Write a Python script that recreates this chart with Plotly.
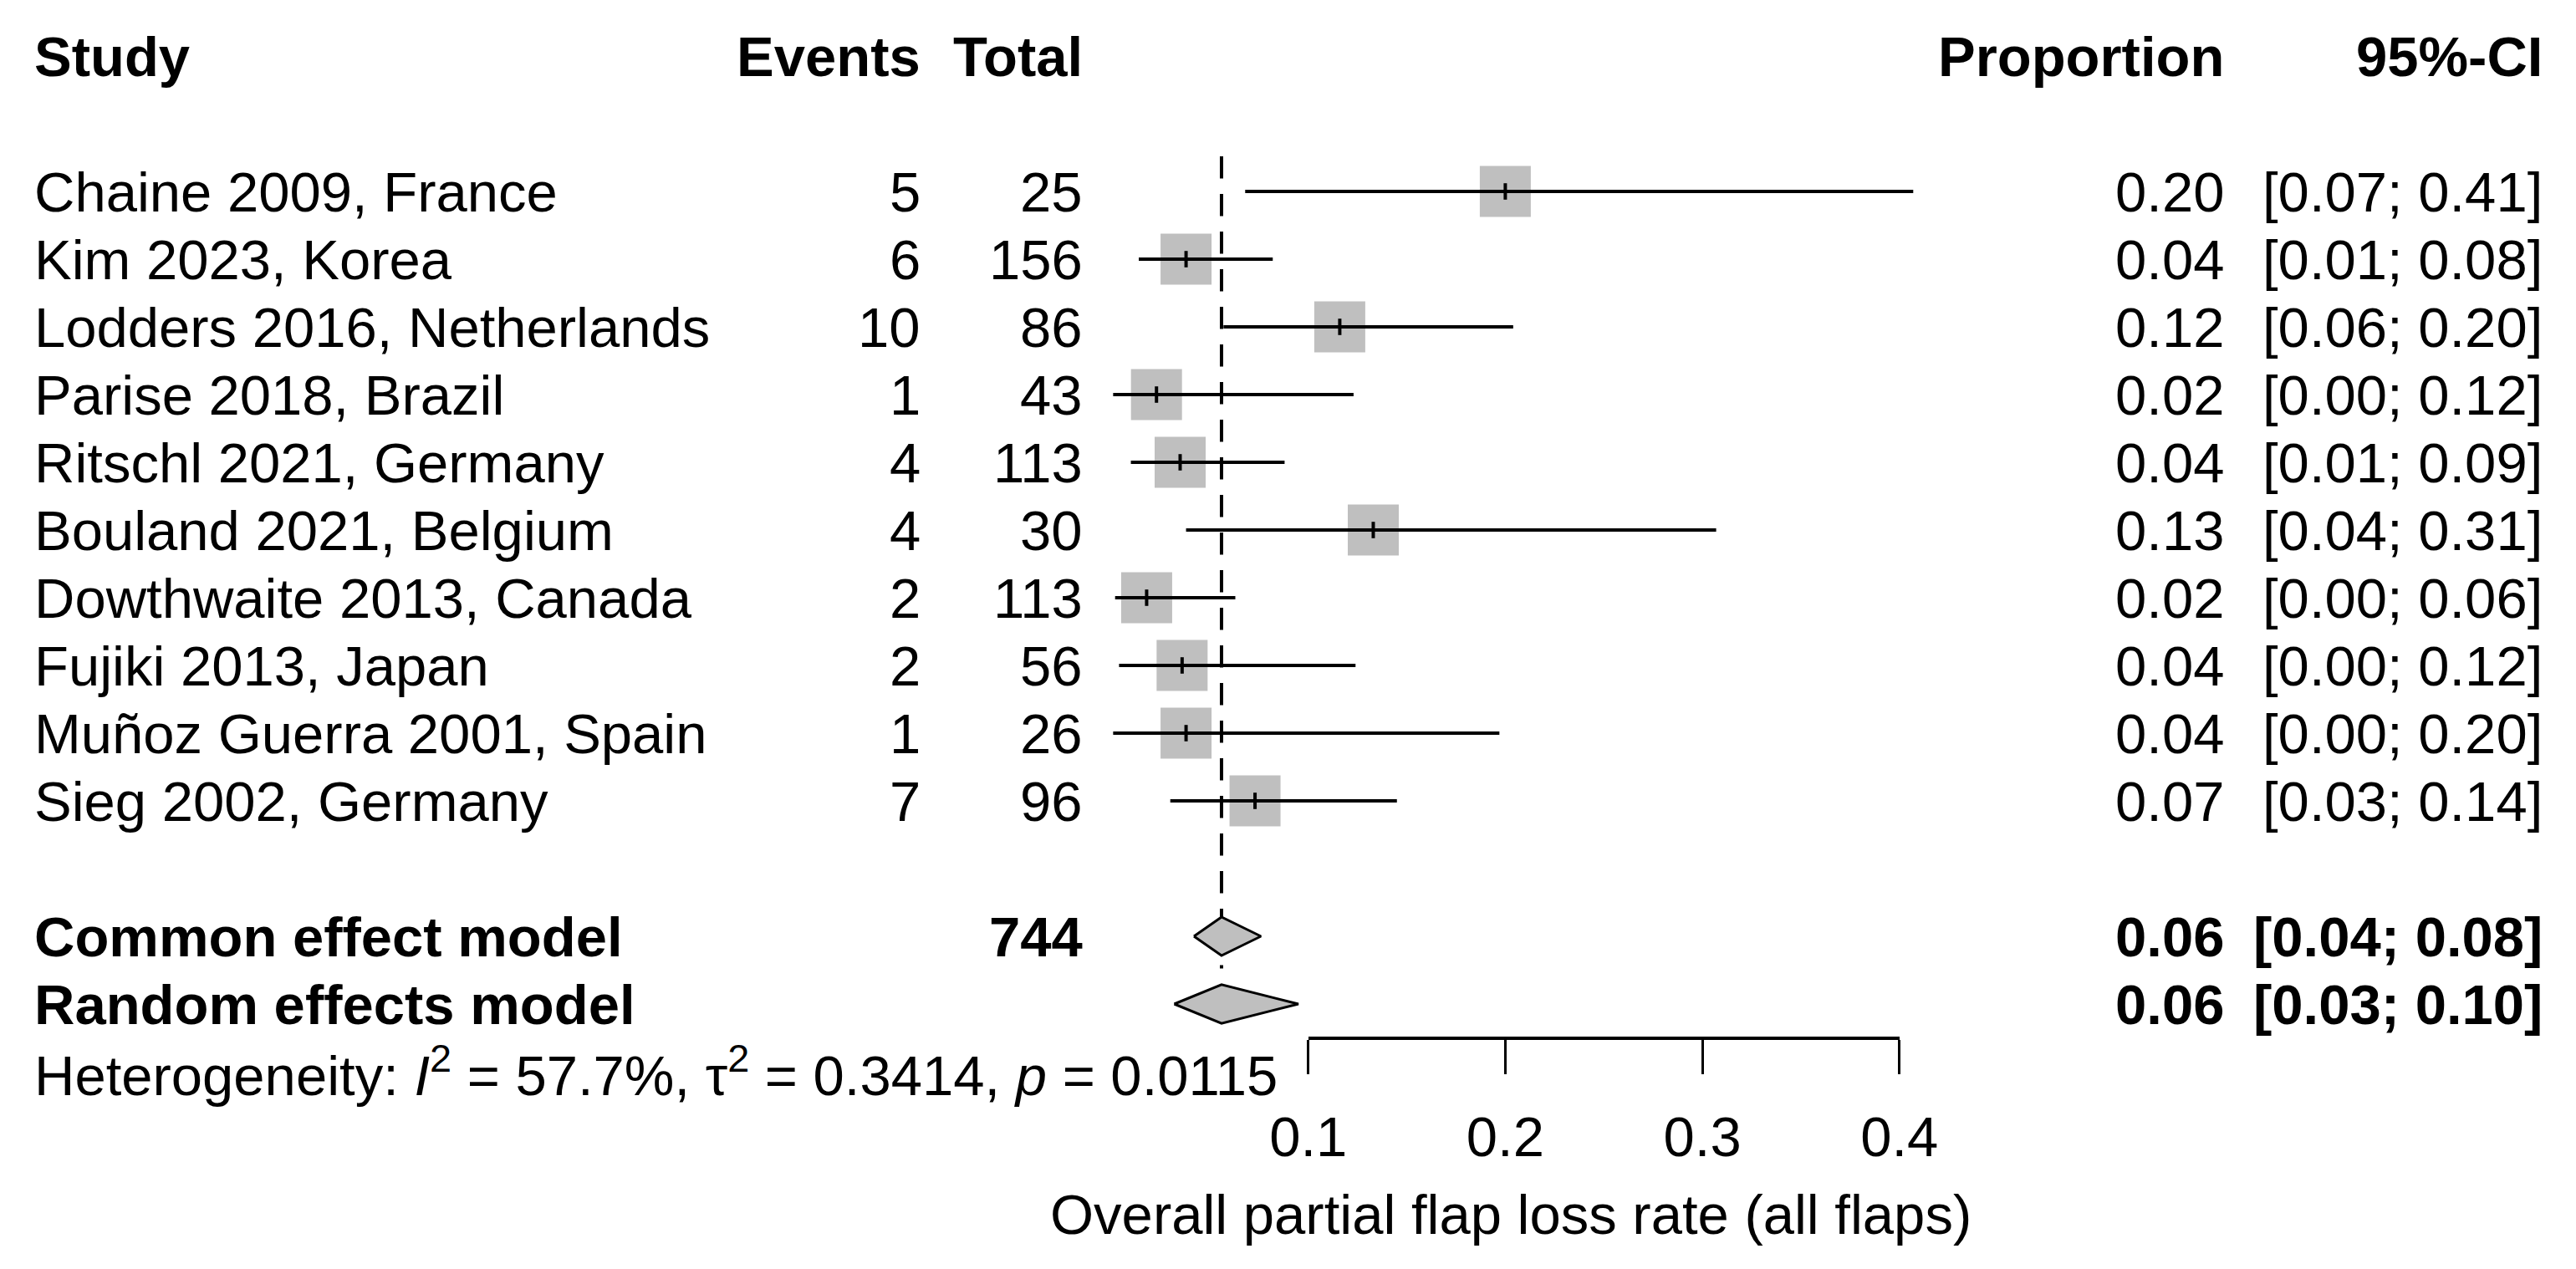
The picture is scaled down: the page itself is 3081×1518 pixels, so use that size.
import plotly.graph_objects as go

# ---------------- data ----------------
studies = ["Chaine 2009, France", "Kim 2023, Korea", "Lodders 2016, Netherlands",
           "Parise 2018, Brazil", "Ritschl 2021, Germany", "Bouland 2021, Belgium",
           "Dowthwaite 2013, Canada", "Fujiki 2013, Japan", "Muñoz Guerra 2001, Spain",
           "Sieg 2002, Germany"]
events = [5, 6, 10, 1, 4, 4, 2, 2, 1, 7]
totals = [25, 156, 86, 43, 113, 30, 113, 56, 26, 96]
proportion = [0.200, 0.038, 0.116, 0.023, 0.035, 0.133, 0.018, 0.036, 0.038, 0.073]
ci_lower = [0.068, 0.014, 0.057, 0.001, 0.010, 0.038, 0.002, 0.004, 0.001, 0.030]
ci_upper = [0.407, 0.082, 0.204, 0.123, 0.088, 0.307, 0.063, 0.124, 0.197, 0.145]
prop_labels = ["0.20", "0.04", "0.12", "0.02", "0.04", "0.13", "0.02", "0.04", "0.04", "0.07"]
ci_labels = ["[0.07; 0.41]", "[0.01; 0.08]", "[0.06; 0.20]", "[0.00; 0.12]", "[0.01; 0.09]",
             "[0.04; 0.31]", "[0.00; 0.06]", "[0.00; 0.12]", "[0.00; 0.20]", "[0.03; 0.14]"]

model_names = ["Common effect model", "Random effects model"]
model_est = [0.056, 0.056]
model_lower = [0.042, 0.032]
model_upper = [0.076, 0.095]
model_prop_labels = ["0.06", "0.06"]
model_ci_labels = ["[0.04; 0.08]", "[0.03; 0.10]"]
total_n = "744"

headers = ["Study", "Events", "Total", "Proportion", "95%-CI"]
tick_values = [0.1, 0.2, 0.3, 0.4]
tick_labels = ["0.1", "0.2", "0.3", "0.4"]
x_title = "Overall partial flap loss rate (all flaps)"
heterogeneity = "Heterogeneity: <i>I</i><sup>2</sup> = 57.7%, τ<sup>2</sup> = 0.3414, <i>p</i> = 0.0115"

# ---------------- geometry ----------------
W, H = 3081, 1518
FONT = "Liberation Sans, Arial, sans-serif"
FS = 67
X0_PX, PX_PER_UNIT = 1329, 2357            # value 0 -> pixel, pixels per unit
X_LEFT = -X0_PX / PX_PER_UNIT
X_RIGHT = (W - X0_PX) / PX_PER_UNIT
ROW0_PX, ROW_PX = 229, 81                  # first study row centre, row spacing
Y_TOP = -ROW0_PX / ROW_PX
Y_BOT = (H - ROW0_PX) / ROW_PX

rows = list(range(len(studies)))
header_row = -2
model_rows = [len(studies) + 1, len(studies) + 2]
het_row = len(studies) + 3.0
diamond_half = 0.285

fig = go.Figure()

# squares
fig.add_trace(go.Scatter(x=proportion, y=rows, mode="markers",
                         marker=dict(symbol="square", size=61, color="#bfbfbf", line=dict(width=0)),
                         hoverinfo="skip", showlegend=False))

# reference lines (common: dashed, random: dotted)
fig.add_trace(go.Scatter(x=[model_est[0], model_est[0]], y=[-0.52, model_rows[0] - diamond_half],
                         mode="lines", line=dict(color="black", width=4, dash="25px,20px"),
                         hoverinfo="skip", showlegend=False))
fig.add_trace(go.Scatter(x=[model_est[1], model_est[1]], y=[-0.52, model_rows[1] - diamond_half],
                         mode="lines", line=dict(color="black", width=4, dash="4px,18.5px"),
                         hoverinfo="skip", showlegend=False))

# CI lines
cx, cy = [], []
for lo, hi, r in zip(ci_lower, ci_upper, rows):
    cx += [lo, hi, None]
    cy += [r, r, None]
fig.add_trace(go.Scatter(x=cx, y=cy, mode="lines", line=dict(color="black", width=4),
                         hoverinfo="skip", showlegend=False))

# point estimate ticks
fig.add_trace(go.Scatter(x=proportion, y=rows, mode="markers",
                         marker=dict(symbol="line-ns", size=14, line=dict(color="black", width=4)),
                         hoverinfo="skip", showlegend=False))

# diamonds
for est, lo, hi, r in zip(model_est, model_lower, model_upper, model_rows):
    fig.add_trace(go.Scatter(x=[lo, est, hi, est, lo], y=[r, r - diamond_half, r, r + diamond_half, r],
                             mode="lines", fill="toself", fillcolor="#bfbfbf",
                             line=dict(color="black", width=3),
                             hoverinfo="skip", showlegend=False))

# invisible trace on the visible axis
fig.add_trace(go.Scatter(x=tick_values, y=[None] * len(tick_values), xaxis="x2", yaxis="y",
                         mode="markers", hoverinfo="skip", showlegend=False))

# ---------------- text columns ----------------
def txt(x_px, row, text, anchor, bold=False):
    fig.add_annotation(x=x_px / W, xref="paper", y=row, yref="y", text=(f"<b>{text}</b>" if bold else text),
                       xanchor=anchor, yanchor="middle", showarrow=False,
                       font=dict(family=FONT, size=FS, color="black"))

col_x = [39, 1103, 1297, 2662, 3043]
col_anchor = ["left", "right", "right", "right", "right"]
for h, x, a in zip(headers, col_x, col_anchor):
    txt(x, header_row, h, a, bold=True)

for r, s, e, n, p, c in zip(rows, studies, events, totals, prop_labels, ci_labels):
    txt(col_x[0], r, s, "left")
    txt(col_x[1], r, str(e), "right")
    txt(col_x[2], r, str(n), "right")
    txt(col_x[3], r, p, "right")
    txt(col_x[4], r, c, "right")

for i, (r, name, p, c) in enumerate(zip(model_rows, model_names, model_prop_labels, model_ci_labels)):
    txt(col_x[0], r, name, "left", bold=True)
    if i == 0:
        txt(col_x[2], r, total_n, "right", bold=True)
    txt(col_x[3], r, p, "right", bold=True)
    txt(col_x[4], r, c, "right", bold=True)

txt(col_x[0], het_row, heterogeneity, "left")

# axis title
fig.add_annotation(x=1807 / W, xref="paper", y=(1452 - ROW0_PX) / ROW_PX, yref="y", text=x_title,
                   xanchor="center", yanchor="middle", showarrow=False,
                   font=dict(family=FONT, size=FS, color="black"))

# ---------------- layout ----------------
d0 = (tick_values[0] - X_LEFT) / (X_RIGHT - X_LEFT)
d1 = (tick_values[-1] - X_LEFT) / (X_RIGHT - X_LEFT)
axis_y = 1 - 1242 / H

fig.update_layout(
    width=W, height=H,
    margin=dict(l=0, r=0, t=0, b=0, autoexpand=False),
    paper_bgcolor="white", plot_bgcolor="rgba(0,0,0,0)",
    showlegend=False,
    font=dict(family=FONT, size=FS, color="black"),
    xaxis=dict(domain=[0, 1], range=[X_LEFT, X_RIGHT], visible=False),
    yaxis=dict(domain=[0, 1], range=[Y_BOT, Y_TOP], visible=False),
    xaxis2=dict(domain=[d0, d1], range=[tick_values[0], tick_values[-1]], anchor="free",
                position=axis_y, side="bottom",
                tickvals=tick_values, ticktext=tick_labels,
                ticks="outside", ticklen=41, tickwidth=3, tickcolor="black",
                showline=True, linewidth=4, linecolor="black",
                showgrid=False, zeroline=False, ticklabelstandoff=18,
                tickfont=dict(family=FONT, size=FS, color="black")),
)

fig.write_html("out.html", config={"displayModeBar": False},
               post_script="document.body.style.margin='0px';")
